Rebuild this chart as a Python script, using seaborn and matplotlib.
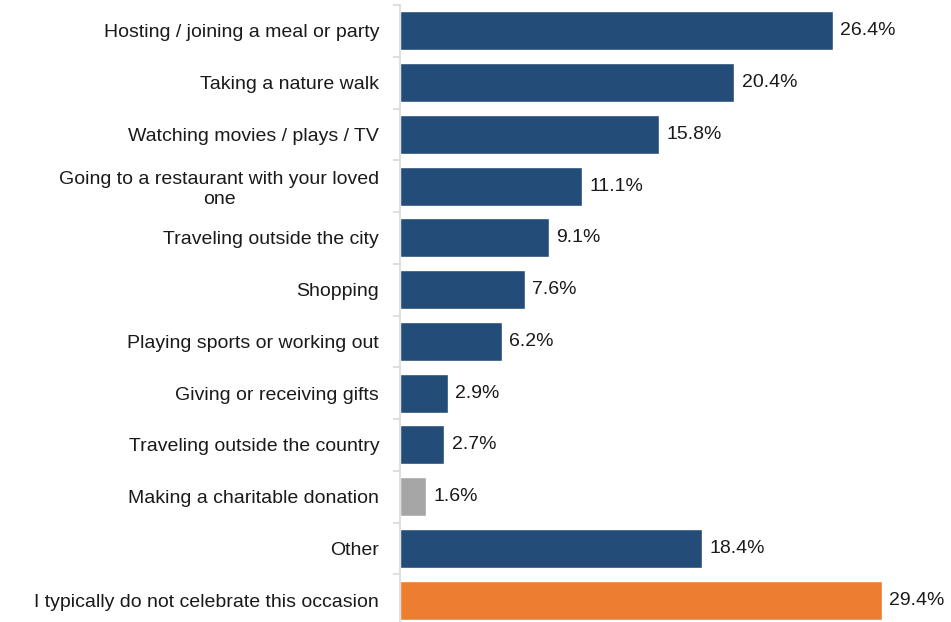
import numpy as np
import pandas as pd
import matplotlib
matplotlib.use("Agg")
import matplotlib.pyplot as plt
import seaborn as sns

categories = [
    "Hosting / joining a meal or party",
    "Taking a nature walk",
    "Watching movies / plays / TV",
    "Going to a restaurant with your loved\none",
    "Traveling outside the city",
    "Shopping",
    "Playing sports or working out",
    "Giving or receiving gifts",
    "Traveling outside the country",
    "Making a charitable donation",
    "Other",
    "I typically do not celebrate this occasion",
]
values = [26.4, 20.4, 15.8, 11.1, 9.1, 7.6, 6.2, 2.9, 2.7, 1.6, 18.4, 29.4]

NAVY = "#244C78"
GREY = "#A6A6A6"
ORANGE = "#ED7D31"
bar_colors = [NAVY] * 9 + [GREY, NAVY, ORANGE]

df = pd.DataFrame({"activity": categories, "share": values})

sns.set_theme(style="white")
plt.rcParams["font.family"] = ["Liberation Sans", "DejaVu Sans"]

fig = plt.figure(figsize=(9.51, 6.22), dpi=100)
ax = fig.add_axes([400 / 951, -4 / 622, 541 / 951, 621 / 622])

sns.barplot(data=df, y="activity", x="share", hue="activity",
            palette=bar_colors, order=categories, hue_order=categories,
            orient="h", width=0.75, legend=False, ax=ax, saturation=1)

ax.set_xlim(0, 33)
ax.set_ylim(len(categories) - 0.5, -0.5)
ax.set_xlabel("")
ax.set_ylabel("")
ax.set_xticks([])

for s in ["top", "right", "bottom"]:
    ax.spines[s].set_visible(False)
ax.spines["left"].set_color("#D9D9D9")
ax.spines["left"].set_linewidth(1.2)

# category labels, no major tick marks; short marks between categories
ax.tick_params(axis="y", which="major", left=True, length=0, pad=15,
               labelsize=14, labelcolor="#1A1A1A")
ax.set_yticks(np.arange(-0.5, len(categories) + 0.5, 1), minor=True)
ax.tick_params(axis="y", which="minor", left=True, length=5, width=1.2,
               color="#D9D9D9")
for lab in ax.get_yticklabels():
    lab.set_multialignment("center")

for i, v in enumerate(values):
    ax.text(v + 0.45, i, f"{v:.1f}%", va="center", ha="left",
            fontsize=14, color="#1A1A1A")

fig.savefig("out.png", dpi=100)
